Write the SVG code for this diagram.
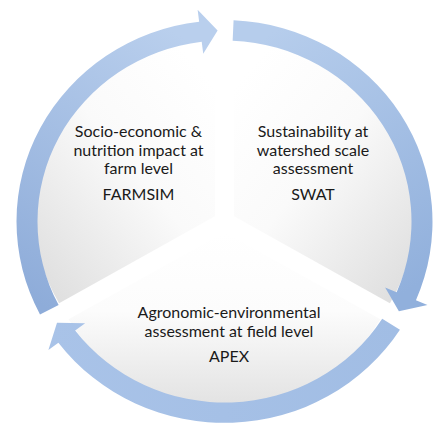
<svg xmlns="http://www.w3.org/2000/svg" width="441" height="427" viewBox="0 0 441 427">
<style>
.lbl{font-family:Lato,"Open Sans","Liberation Sans",sans-serif;font-size:16px;fill:#1a1a1a;text-anchor:middle}
</style>
<defs>
<linearGradient id="gL" x1="0.85" y1="0.05" x2="0.1" y2="0.95"><stop offset="0" stop-color="#ffffff"/><stop offset="0.45" stop-color="#fafafa"/><stop offset="1" stop-color="#e0e0e0"/></linearGradient>
<linearGradient id="gR" x1="0.15" y1="0.05" x2="0.9" y2="0.95"><stop offset="0" stop-color="#ffffff"/><stop offset="0.45" stop-color="#fafafa"/><stop offset="1" stop-color="#e0e0e0"/></linearGradient>
<linearGradient id="gB" x1="0" y1="0" x2="0" y2="1"><stop offset="0" stop-color="#ffffff"/><stop offset="0.45" stop-color="#fcfcfc"/><stop offset="1" stop-color="#e2e2e2"/></linearGradient>
<linearGradient id="a1" x1="0.6" y1="0" x2="0.2" y2="1"><stop offset="0" stop-color="#b9cfed"/><stop offset="1" stop-color="#8eacd9"/></linearGradient>
<linearGradient id="a2" x1="0.3" y1="0" x2="0.7" y2="1"><stop offset="0" stop-color="#b6cdec"/><stop offset="1" stop-color="#91b0dc"/></linearGradient>
<linearGradient id="a3" x1="0" y1="0" x2="1" y2="0"><stop offset="0" stop-color="#a9c3e8"/><stop offset="1" stop-color="#a1bde4"/></linearGradient>
</defs>
<g transform="translate(224.5 221.5) scale(1 0.968)">
<g id="sector-farmsim"><path d="M-9.53,-5.5 L-165.41,84.5 A180,180 0 0 1 -9.53,-185.5 Z" fill="url(#gL)"/></g>
<g id="sector-swat"><path d="M9.53,-5.5 L9.53,-185.5 A180,180 0 0 1 165.41,84.5 Z" fill="url(#gR)"/></g>
<g id="sector-apex"><path d="M0,11 L155.88,101 A180,180 0 0 1 -155.88,101 Z" fill="url(#gB)"/></g>
<g id="connectors">
<path d="M-184.50,96.04 A208,208 0 0 1 -25.35,-206.45 L-26.87,-218.86 L-6.89,-197.38 L-21.27,-173.20 L-22.79,-185.61 A187,187 0 0 0 -165.87,86.35 Z" fill="url(#a1)"/>
<path d="M9.07,-207.80 A208,208 0 0 1 191.46,81.27 L202.97,86.16 L174.38,92.72 L160.63,68.18 L172.13,73.07 A187,187 0 0 0 8.16,-186.82 Z" fill="url(#a2)"/>
<path d="M175.43,111.76 A208,208 0 0 1 -166.12,125.18 L-176.10,132.70 L-167.49,104.66 L-139.36,105.02 L-149.35,112.54 A187,187 0 0 0 157.71,100.48 Z" fill="url(#a3)"/>
</g>
</g>
<g id="label-farmsim">
<text class="lbl" x="138.5" y="137">Socio-economic &amp;</text>
<text class="lbl" x="138.5" y="155.5">nutrition impact at</text>
<text class="lbl" x="138.5" y="174">farm level</text>
<text class="lbl" x="138.5" y="199.5">FARMSIM</text>
</g>
<g id="label-swat">
<text class="lbl" x="313" y="137">Sustainability at</text>
<text class="lbl" x="313" y="155.5">watershed scale</text>
<text class="lbl" x="313" y="174">assessment</text>
<text class="lbl" x="313" y="199.5">SWAT</text>
</g>
<g id="label-apex">
<text class="lbl" x="229" y="318">Agronomic-environmental</text>
<text class="lbl" x="229" y="336.5">assessment at field level</text>
<text class="lbl" x="229" y="362">APEX</text>
</g>
</svg>
